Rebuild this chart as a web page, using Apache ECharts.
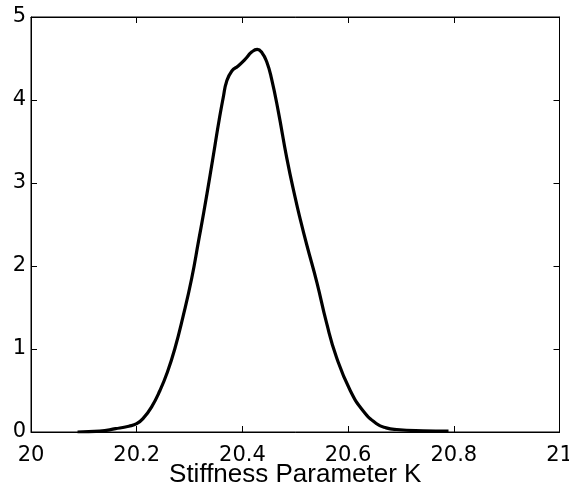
<!DOCTYPE html>
<html>
<head>
<meta charset="utf-8">
<script src="https://cdn.jsdelivr.net/npm/echarts@6/dist/echarts.min.js"></script>
<style>html,body{margin:0;padding:0;background:#fff}#c{width:569px;height:488px}</style>
</head>
<body>
<div id="c"></div>
<script>
const xValues = [20.088, 20.13, 20.16, 20.185, 20.2, 20.213, 20.228, 20.244, 20.258, 20.272, 20.288, 20.304, 20.317, 20.327, 20.339, 20.348, 20.356, 20.364, 20.370, 20.380, 20.392, 20.405, 20.418, 20.428, 20.437, 20.446, 20.455, 20.468, 20.484, 20.500, 20.510, 20.522, 20.541, 20.559, 20.578, 20.604, 20.629, 20.654, 20.672, 20.692, 20.742, 20.790];
const density = [0.0, 0.01, 0.04, 0.07, 0.10, 0.17, 0.30, 0.50, 0.72, 1.00, 1.40, 1.85, 2.30, 2.65, 3.10, 3.45, 3.76, 4.04, 4.22, 4.35, 4.41, 4.49, 4.58, 4.61, 4.57, 4.46, 4.26, 3.86, 3.30, 2.82, 2.55, 2.25, 1.80, 1.32, 0.90, 0.50, 0.25, 0.10, 0.05, 0.03, 0.015, 0.01];
const xTicks = [20, 20.2, 20.4, 20.6, 20.8, 21];
const yTicks = [0, 1, 2, 3, 4, 5];
const xLabel = 'Stiffness Parameter K';

const nameFont = 'Liberation Sans, Arial, Helvetica, sans-serif';
const tickFont = 'DejaVu Sans, sans-serif';
const chart = echarts.init(document.getElementById('c'));
const axLine = {show: true, onZero: false, lineStyle: {color: '#000', width: 1}};
const tick = {show: true, inside: true, length: 6, lineStyle: {color: '#000', width: 1}};
const labelStyle = {color: '#000', fontSize: 21, fontFamily: tickFont};
chart.setOption({
  animation: false,
  backgroundColor: '#fff',
  grid: {left: 31, top: 17, right: 9.5, bottom: 56, containLabel: false, outerBoundsMode: 'none',
         show: true, borderColor: '#000', borderWidth: 1, backgroundColor: 'transparent'},
  xAxis: [{
    type: 'value', min: xTicks[0], max: xTicks[xTicks.length - 1], interval: 0.2,
    axisLine: axLine, axisTick: tick, splitLine: {show: false},
    axisLabel: Object.assign({margin: 13, hideOverlap: false, formatter: v => String(Math.round(v * 10) / 10)}, labelStyle),
    name: xLabel, nameLocation: 'middle', nameGap: 30, nameMoveOverlap: false,
    nameTextStyle: {color: '#000', fontSize: 26, fontFamily: nameFont, verticalAlign: 'top'}
  }, {
    type: 'value', position: 'top', min: xTicks[0], max: xTicks[xTicks.length - 1], interval: 0.2,
    axisLine: axLine, axisTick: tick, axisLabel: {show: false}, splitLine: {show: false}
  }],
  yAxis: [{
    type: 'value', min: yTicks[0], max: yTicks[yTicks.length - 1], interval: 1,
    axisLine: axLine, axisTick: tick, splitLine: {show: false},
    axisLabel: Object.assign({margin: 5, hideOverlap: false}, labelStyle)
  }, {
    type: 'value', position: 'right', min: yTicks[0], max: yTicks[yTicks.length - 1], interval: 1,
    axisLine: axLine, axisTick: tick, axisLabel: {show: false}, splitLine: {show: false}
  }],
  series: [{
    type: 'line',
    data: xValues.map((x, i) => [x, density[i]]),
    smooth: 0.5,
    showSymbol: false,
    lineStyle: {color: '#000', width: 3.2},
    xAxisIndex: 0, yAxisIndex: 0
  }]
});
</script>
</body>
</html>
